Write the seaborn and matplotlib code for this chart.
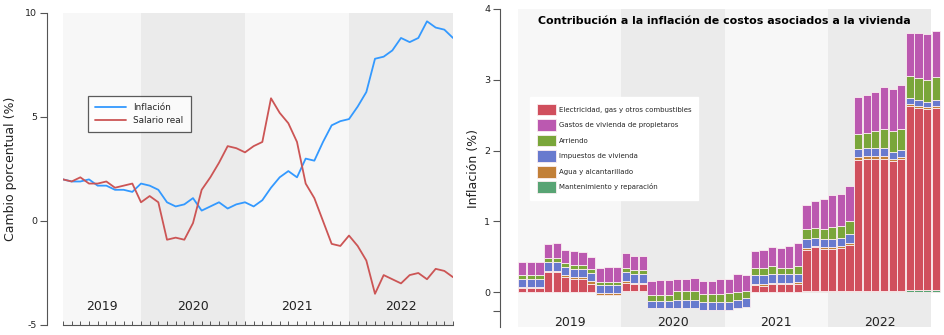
import numpy as np
import pandas as pd
import matplotlib
matplotlib.use("Agg")
import matplotlib.pyplot as plt
import seaborn as sns
from matplotlib.patches import Patch
from matplotlib.lines import Line2D

# ---------------- data ----------------
# Left panel: monthly year-over-year change (%), 46 months
inflacion = [2.0, 1.9, 1.9, 2.0, 1.7, 1.7, 1.5, 1.5, 1.4, 1.8, 1.7, 1.5,
             0.9, 0.7, 0.8, 1.1, 0.5, 0.7, 0.9, 0.6, 0.8, 0.9, 0.7, 1.0,
             1.6, 2.1, 2.4, 2.1, 3.0, 2.9, 3.8, 4.6, 4.8, 4.9, 5.5, 6.2,
             7.8, 7.9, 8.2, 8.8, 8.6, 8.8, 9.6, 9.3, 9.2, 8.8]
salario_real = [2.0, 1.9, 2.1, 1.8, 1.8, 1.9, 1.6, 1.7, 1.8, 0.9, 1.2, 0.9,
                -0.9, -0.8, -0.9, -0.1, 1.5, 2.1, 2.8, 3.6, 3.5, 3.3, 3.6, 3.8,
                5.9, 5.2, 4.7, 3.8, 1.8, 1.1, 0.0, -1.1, -1.2, -0.7, -1.2, -1.9,
                -3.5, -2.6, -2.8, -3.0, -2.6, -2.5, -2.8, -2.3, -2.4, -2.7]
anios = ["2019", "2020", "2021", "2022"]
meses_por_anio_izq = [9, 12, 12, 12]
meses_por_anio_der = [12, 12, 12, 12]

# Right panel: contributions to inflation (percentage points), 49 months
mantenimiento = [0, 0, 0, 0, 0, 0, 0, 0, 0, 0, 0, 0,
                 0.01, 0.01, 0.01, 0, 0, 0, 0, 0, 0, 0, 0, 0,
                 0, 0, 0, 0.005, 0.005, 0.005, 0.005, 0.005, 0.005, 0.01, 0.01, 0.01,
                 0.01, 0.01, 0.01, 0.02, 0.02, 0.02, 0.02, 0.02, 0.02, 0.025, 0.025, 0.025,
                 0.025]
electricidad = [0.05, 0.05, 0.05, 0.28, 0.28, 0.21, 0.18, 0.18, 0.12, -0.045, -0.045, -0.045,
                0.12, 0.10, 0.10, -0.23, -0.23, -0.23, -0.22, -0.22, -0.22, -0.26, -0.26, -0.26,
                -0.25, -0.23, -0.21, 0.095, 0.085, 0.105, 0.105, 0.105, 0.115, 0.59, 0.62, 0.60,
                0.605, 0.615, 0.66, 1.85, 1.86, 1.86, 1.86, 1.835, 1.86, 2.60, 2.58, 2.555,
                2.58]
agua = [0.02, 0.02, 0.02, 0.02, 0.02, 0.025, 0.03, 0.03, 0.03, 0.025, 0.025, 0.025,
        0.025, 0.02, 0.02, 0, 0, 0, 0, 0, 0, 0, 0, 0,
        0, 0, 0, 0.02, 0.02, 0.02, 0.02, 0.02, 0.02, 0.02, 0.02, 0.02,
        0.02, 0.02, 0.02, 0.04, 0.045, 0.045, 0.045, 0.025, 0.03, 0.03, 0.03, 0.03,
        0.02]
impuestos = [0.11, 0.11, 0.11, 0.12, 0.12, 0.125, 0.12, 0.12, 0.12, 0.115, 0.115, 0.115,
             0.135, 0.12, 0.12, 0.10, 0.10, 0.10, 0.11, 0.11, 0.11, 0.115, 0.115, 0.115,
             0.115, 0.12, 0.12, 0.115, 0.125, 0.12, 0.12, 0.12, 0.12, 0.125, 0.12, 0.125,
             0.12, 0.125, 0.125, 0.11, 0.115, 0.115, 0.115, 0.10, 0.10, 0.085, 0.085, 0.08,
             0.095]
arriendo = [0.055, 0.055, 0.055, 0.065, 0.065, 0.055, 0.045, 0.045, 0.06, 0.05, 0.05, 0.05,
            0.055, 0.06, 0.06, 0.085, 0.085, 0.085, 0.13, 0.13, 0.13, 0.115, 0.115, 0.115,
            0.115, 0.115, 0.105, 0.11, 0.11, 0.12, 0.095, 0.095, 0.11, 0.14, 0.135, 0.14,
            0.16, 0.16, 0.185, 0.215, 0.205, 0.23, 0.26, 0.29, 0.29, 0.31, 0.305, 0.31,
            0.315]
gastos_propietarios = [0.19, 0.19, 0.19, 0.19, 0.205, 0.185, 0.20, 0.185, 0.17, 0.19, 0.21, 0.21,
                       0.21, 0.20, 0.20, 0.195, 0.21, 0.21, 0.17, 0.17, 0.18, 0.185, 0.185, 0.21,
                       0.20, 0.245, 0.225, 0.235, 0.255, 0.265, 0.28, 0.305, 0.32, 0.34, 0.38, 0.415,
                       0.46, 0.46, 0.50, 0.525, 0.54, 0.55, 0.60, 0.605, 0.62, 0.615, 0.64, 0.65,
                       0.66]

nombres = {
    "mant": "Mantenimiento y reparación",
    "elec": "Electricidad, gas y otros combustibles",
    "agua": "Agua y alcantarillado",
    "imp": "Impuestos de vivienda",
    "arr": "Arriendo",
    "gas": "Gastos de vivienda de propietaros",
}
colores = {
    "mant": "#58a474",
    "elec": "#d04f5d",
    "agua": "#c28038",
    "imp": "#687ace",
    "arr": "#7aa63a",
    "gas": "#bb59b0",
}
orden_apilado = [("mant", mantenimiento), ("elec", electricidad), ("agua", agua),
                 ("imp", impuestos), ("arr", arriendo), ("gas", gastos_propietarios)]
orden_leyenda = ["elec", "gas", "arr", "imp", "agua", "mant"]

# ---------------- style ----------------
sns.set_theme(style="ticks")
plt.rcParams["font.family"] = ["DejaVu Sans"]
plt.rcParams["axes.unicode_minus"] = False

DPI = 100
fig = plt.figure(figsize=(9.44, 3.35), dpi=DPI)
W, H = 944, 335


def px_axes(x0, x1, ytop, ybot):
    return fig.add_axes([x0 / W, 1 - ybot / H, (x1 - x0) / W, (ybot - ytop) / H])


LIGHT = "#f7f7f7"
DARK = "#ebebeb"
SPINE = "#555555"
TXT = "#222222"

# ---------------- left panel ----------------
ax1 = px_axes(63, 453, 13, 325)
ax1.set_facecolor("white")
n = len(inflacion)
df_left = pd.DataFrame({
    "mes": list(range(n)) * 2,
    "valor": inflacion + salario_real,
    "serie": ["Inflación"] * n + ["Salario real"] * n,
})

start = 0
for i, (anio, m) in enumerate(zip(anios, meses_por_anio_izq)):
    ax1.axvspan(start, start + m, color=LIGHT if i % 2 == 0 else DARK, zorder=0, lw=0)
    ax1.text(start + m / 2, -4.13, anio, ha="center", va="center", fontsize=9, color=TXT)
    start += m

pal = {"Inflación": "#3399ff", "Salario real": "#cc5555"}
sns.lineplot(data=df_left, x="mes", y="valor", hue="serie", palette=pal,
             linewidth=1.3, ax=ax1, legend=False)
ax1.set_xlim(0, n - 1)
ax1.set_ylim(-5, 10)
ax1.set_yticks([-5, 0, 5, 10])
ax1.set_xticks(range(n))
ax1.set_xticklabels([])
ax1.set_xlabel("")
ax1.set_ylabel("Cambio porcentual (%)", fontsize=9, color=TXT, labelpad=6)
ax1.tick_params(axis="y", labelsize=6.8, colors=SPINE, labelcolor=TXT, length=5, width=0.8, pad=2)
ax1.tick_params(axis="x", direction="in", length=3, width=0.7, colors=SPINE)
ax1.spines["top"].set_visible(False)
ax1.spines["right"].set_visible(False)
ax1.spines["left"].set_position(("outward", 16 * 72 / DPI))
for s in ("left", "bottom"):
    ax1.spines[s].set_color(SPINE)
    ax1.spines[s].set_linewidth(0.8)

handles = [Line2D([], [], color=pal[k], lw=1.3) for k in pal]
leg1 = ax1.legend(handles, list(pal), loc="upper left", bbox_to_anchor=(0.064, 0.734),
                  fontsize=6.4, frameon=True, fancybox=False, edgecolor="#333333",
                  handlelength=3.5, handletextpad=0.8, borderpad=0.8, labelspacing=0.4,
                  borderaxespad=0)
leg1.get_frame().set_linewidth(0.9)
leg1.get_frame().set_facecolor("white")

# ---------------- right panel ----------------
ax2 = px_axes(518, 944, 9, 327.4)
m2 = len(electricidad)
xs = list(range(m2))
start = -0.5
for i, (anio, m) in enumerate(zip(anios, meses_por_anio_der)):
    ax2.axvspan(start, start + m, color=LIGHT if i % 2 == 0 else DARK, zorder=0, lw=0)
    ax2.text(start + m / 2, -0.43, anio, ha="center", va="center", fontsize=9, color=TXT)
    start += m

base = np.zeros(m2)
for key, vals in orden_apilado:
    vals = np.asarray(vals, dtype=float)
    sns.barplot(x=xs, y=vals, bottom=base.copy(), color=colores[key], saturation=1,
                width=0.95, edgecolor="#fbeef0", linewidth=0.6, errorbar=None,
                native_scale=True, ax=ax2, zorder=2)
    base = base + vals

ax2.set_xlim(-0.5, 48.97)
ax2.set_ylim(-0.5, 4)
ax2.set_yticks([-0.27, 0, 1, 2, 3, 4])
ax2.set_yticklabels(["", "0", "1", "2", "3", "4"])
ax2.set_xticks([])
ax2.set_xlabel("")
ax2.set_ylabel("Inflación (%)", fontsize=9, color=TXT, labelpad=3)
ax2.tick_params(axis="y", labelsize=6.8, colors=SPINE, labelcolor=TXT, length=5, width=0.8, pad=2)
for s in ("top", "right", "bottom"):
    ax2.spines[s].set_visible(False)
ax2.spines["left"].set_position(("outward", 18 * 72 / DPI))
ax2.spines["left"].set_color(SPINE)
ax2.spines["left"].set_linewidth(0.8)

ax2.text(23.5, 0.962, "Contribución a la inflación de costos asociados a la vivienda",
         transform=ax2.get_xaxis_transform(), ha="center", va="center",
         fontsize=7.9, fontweight="bold", color="black")

phandles = [Patch(facecolor=colores[k], edgecolor="#fbeef0", linewidth=0.6) for k in orden_leyenda]
leg2 = ax2.legend(phandles, [nombres[k] for k in orden_leyenda], loc="upper left",
                  bbox_to_anchor=(0.028, 0.724), fontsize=5.0, frameon=True, fancybox=False,
                  edgecolor="white", facecolor="white", framealpha=1,
                  handlelength=2.7, handleheight=2.2, handletextpad=0.45,
                  borderpad=1.0, labelspacing=0.56, borderaxespad=0)

fig.savefig("out.png", dpi=DPI)
